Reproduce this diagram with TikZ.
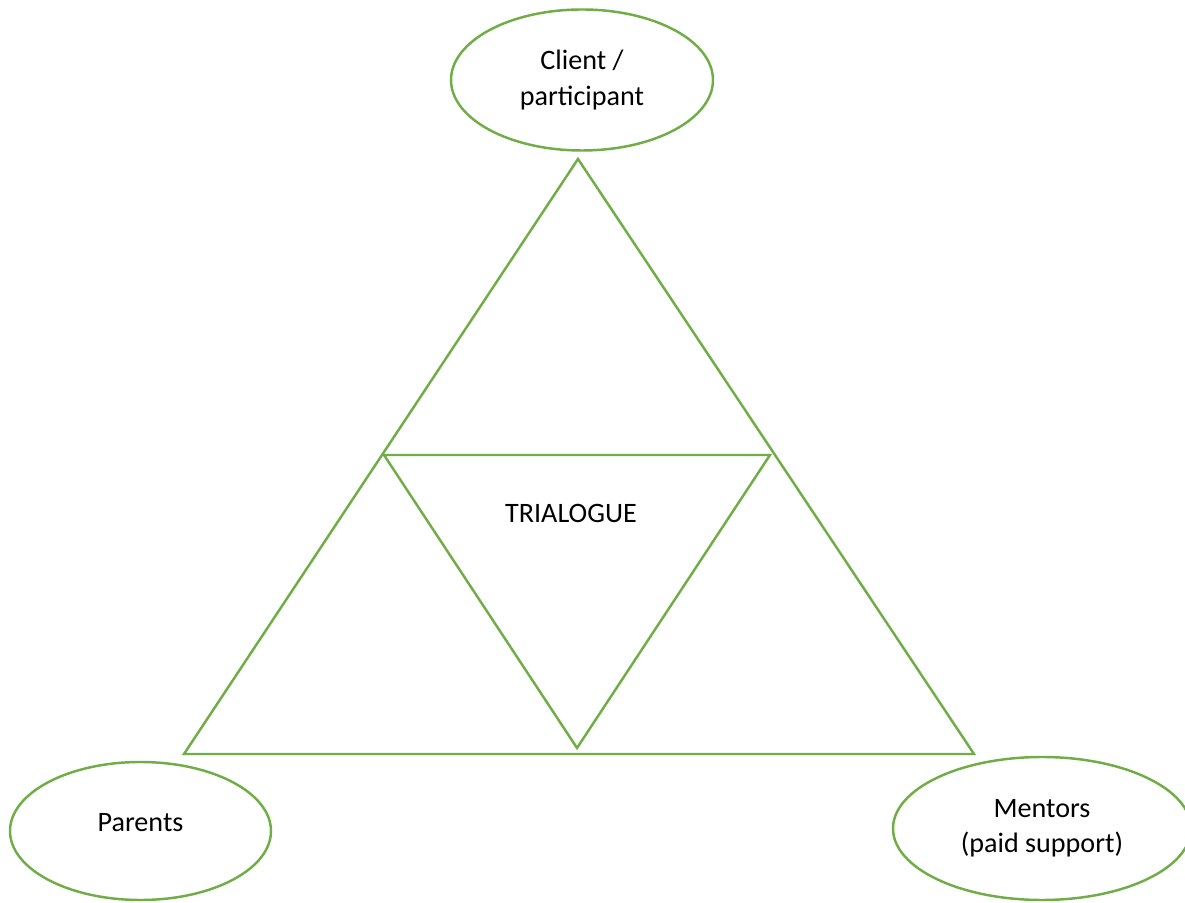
\documentclass[tikz,border=0pt]{standalone}
\usepackage{fontspec}
\setmainfont{Carlito}
\usetikzlibrary{%
  shapes.geometric,%
}
\definecolor{trigreen}{HTML}{70AD47}

\begin{document}
\begin{tikzpicture}[font=\fontsize{16}{20}\selectfont, line width=1.4pt,
    party/.style={ellipse, draw=trigreen, fill=white, align=center, inner sep=0pt}]

      \useasboundingbox (0, 0) rectangle (23.7, 18.04);

      % the three parties
      \node [party, minimum width=5.24cm, minimum height=2.82cm] (client)
        at (11.64, 16.44) {Client / \\ participant};
      \node [party, minimum width=5.22cm, minimum height=2.76cm, text depth=0.36cm] (parents)
        at (2.81, 1.42) {Parents};
      \node [party, minimum width=5.96cm, minimum height=2.86cm] (mentors)
        at (20.84, 1.47) {Mentors \\ (paid support)};

      % outer triangle
      \coordinate (apex) at (11.56, 14.86);
      \coordinate (bottomleft) at (3.68, 2.96);
      \coordinate (bottomright) at (19.48, 2.96);
      \draw [trigreen] (apex) -- (bottomright) -- (bottomleft) -- cycle;

      % inner triangle
      \coordinate (innerleft) at (7.68, 8.94);
      \coordinate (innerright) at (15.40, 8.94);
      \coordinate (innerbottom) at (11.54, 3.08);
      \draw [trigreen] (innerleft) -- (innerright) -- (innerbottom) -- cycle;

      \node (trialogue) at (11.42, 7.78) {TRIALOGUE};

    \end{tikzpicture}
\end{document}
